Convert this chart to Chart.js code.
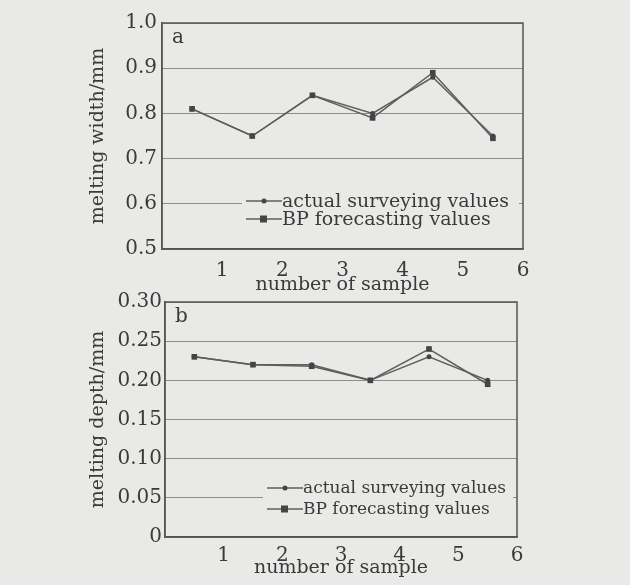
<!DOCTYPE html>
<html>
<head>
<meta charset="utf-8">
<script src="https://cdn.jsdelivr.net/npm/chart.js@4"></script>
<style>
  body { margin: 0; background: #e9e9e7; }
  #wrap { position: relative; width: 630px; height: 585px; overflow: hidden; }
  .box { position: absolute; left: 0; width: 630px; height: 300px; }
</style>
</head>
<body>
<div id="wrap">
  <div class="box" style="top:0px"><canvas id="chartA"></canvas></div>
  <div class="box" style="top:285px"><canvas id="chartB"></canvas></div>
</div>
<script>
// sample numbers (x positions) and tick labels
var samples = [0.5, 1.5, 2.5, 3.5, 4.5, 5.5];
var xTicks = [1, 2, 3, 4, 5, 6];

// a: melting width/mm
var widthActual = [0.81, 0.75, 0.84, 0.80, 0.88, 0.75];
var widthBP = [0.81, 0.75, 0.84, 0.79, 0.89, 0.745];

// b: melting depth/mm
var depthActual = [0.23, 0.22, 0.22, 0.20, 0.23, 0.20];
var depthBP = [0.23, 0.22, 0.218, 0.20, 0.24, 0.195];

var legendLabels = ['actual surveying values', 'BP forecasting values'];

var FONT = 'DejaVu Serif';
var INK = '#3a3a3a';
var LINE = '#5e5e5e';
var BG = '#e9e9e7';

function toPoints(ys) {
    var pts = [];
    for (var i = 0; i < ys.length; i++) {
        pts.push({ x: samples[i], y: ys[i] });
    }
    return pts;
}

// frame, panel letter and legend drawn inside the plot area
var framePlugin = {
    id: 'frame',
    afterDraw: function (chart, args, opts) {
        var ctx = chart.ctx;
        var a = chart.chartArea;
        ctx.save();
        // legend
        var lx = a.right - opts.legendRight;
        ctx.fillStyle = BG;
        ctx.fillRect(lx - 40, a.bottom - opts.legendUp - 12, opts.legendRight + 36, opts.rowGap + 24);
        ctx.font = opts.legendSize + 'px "' + FONT + '"';
        ctx.textBaseline = 'middle';
        for (var i = 0; i < 2; i++) {
            var y = a.bottom - opts.legendUp + i * opts.rowGap;
            ctx.strokeStyle = LINE;
            ctx.lineWidth = 1.3;
            ctx.beginPath();
            ctx.moveTo(lx - 36, y);
            ctx.lineTo(lx, y);
            ctx.stroke();
            ctx.fillStyle = '#444';
            if (i == 0) {
                ctx.beginPath();
                ctx.arc(lx - 18, y, 2.5, 0, Math.PI * 2);
                ctx.fill();
            } else {
                ctx.fillRect(lx - 22, y - 3.5, 7, 7);
            }
            ctx.fillStyle = INK;
            ctx.fillText(legendLabels[i], lx, y + 1);
        }
        // panel letter
        ctx.font = '20px "' + FONT + '"';
        ctx.fillStyle = INK;
        ctx.fillText(opts.letter, a.left + 10, a.top + 15);
        // box
        ctx.strokeStyle = '#555';
        ctx.lineWidth = 1.5;
        ctx.strokeRect(a.left, a.top, a.right - a.left, a.bottom - a.top);
        ctx.restore();
    }
};

function makeChart(id, actual, bp, yOpt, lay) {
    return new Chart(document.getElementById(id), {
        type: 'line',
        data: {
            datasets: [{
                label: legendLabels[0],
                data: toPoints(actual),
                borderColor: LINE,
                backgroundColor: '#444',
                borderWidth: 1.5,
                pointStyle: 'circle',
                pointRadius: 2.5,
                pointBorderWidth: 0
            }, {
                label: legendLabels[1],
                data: toPoints(bp),
                borderColor: LINE,
                backgroundColor: '#444',
                borderWidth: 1.5,
                pointStyle: 'rect',
                pointRadius: 4,
                pointBorderWidth: 0
            }]
        },
        options: {
            responsive: true,
            maintainAspectRatio: false,
            animation: false,
            layout: { padding: { top: lay.top, right: lay.right, left: 0, bottom: 0 } },
            plugins: {
                legend: { display: false },
                tooltip: { enabled: false },
                frame: lay.frame
            },
            scales: {
                x: {
                    type: 'linear',
                    min: 0,
                    max: 6,
                    afterBuildTicks: function (s) {
                        s.ticks = xTicks.map(function (v) { return { value: v }; });
                    },
                    grid: { display: false },
                    border: { display: true, color: '#555', width: 1.5 },
                    ticks: {
                        color: INK,
                        padding: lay.tickPad,
                        maxRotation: 0,
                        autoSkip: false,
                        font: { family: FONT, size: 20, lineHeight: 1 }
                    },
                    title: {
                        display: true,
                        text: 'number of sample',
                        color: INK,
                        padding: { top: 0, bottom: lay.titlePad },
                        font: { family: FONT, size: 19, lineHeight: 1 }
                    },
                    afterFit: function (s) { s.height = lay.xHeight; }
                },
                y: {
                    min: yOpt.min,
                    max: yOpt.max,
                    ticks: {
                        stepSize: yOpt.step,
                        color: INK,
                        padding: lay.yTickPad,
                        font: { family: FONT, size: 20, lineHeight: 1 },
                        callback: yOpt.fmt
                    },
                    grid: { color: 'rgba(80,80,80,0.6)', lineWidth: 1, drawTicks: false },
                    border: { display: true, color: '#555', width: 1.5 },
                    title: {
                        display: true,
                        text: yOpt.title,
                        color: INK,
                        padding: { top: 89, bottom: 0 },
                        font: { family: FONT, size: 19, lineHeight: 1 }
                    },
                    afterFit: function (s) { s.width = lay.left; }
                }
            }
        },
        plugins: [framePlugin]
    });
}

makeChart('chartA', widthActual, widthBP, {
    min: 0.5, max: 1.0, step: 0.1, title: 'melting width/mm',
    fmt: function (v) { return v.toFixed(1); }
}, {
    top: 23, right: 107, left: 162, xHeight: 51, tickPad: 4, titlePad: 5, yTickPad: 5,
    frame: { letter: 'a', legendRight: 241, legendUp: 48, rowGap: 18, legendSize: 19 }
});

makeChart('chartB', depthActual, depthBP, {
    min: 0, max: 0.3, step: 0.05, title: 'melting depth/mm',
    fmt: function (v) { return v == 0 ? '0' : v.toFixed(2); }
}, {
    top: 17, right: 113, left: 165, xHeight: 48, tickPad: 1, titlePad: 7, yTickPad: 3,
    frame: { letter: 'b', legendRight: 214, legendUp: 49, rowGap: 21, legendSize: 17 }
});
</script>
</body>
</html>
